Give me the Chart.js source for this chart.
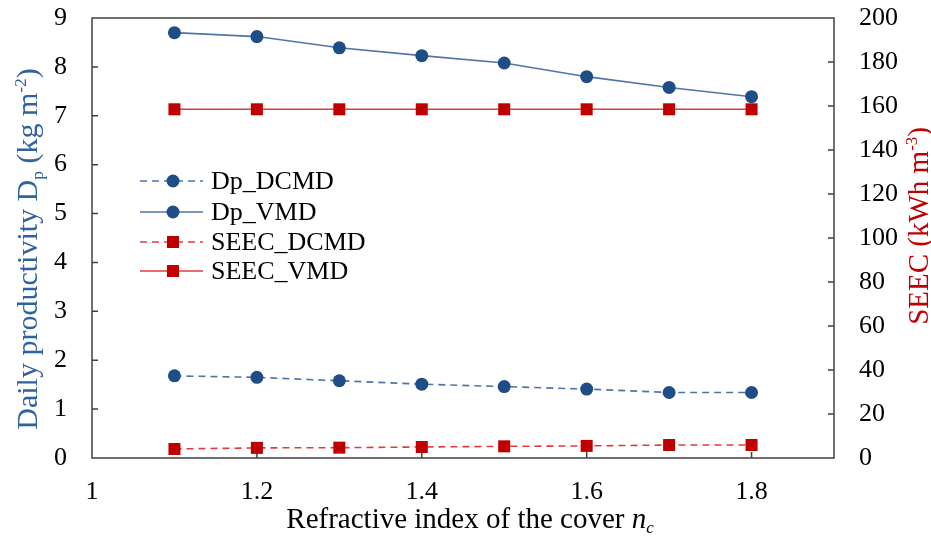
<!DOCTYPE html>
<html><head><meta charset="utf-8">
<script src="https://cdn.jsdelivr.net/npm/chart.js@4"></script>
<style>html,body{margin:0;padding:0;background:#fff}#wrap{width:931px;height:537px}</style>
</head><body><div id="wrap"><canvas id="c" width="931" height="537"></canvas></div>
<script>
const refractiveIndex = [1.1, 1.2, 1.3, 1.4, 1.5, 1.6, 1.7, 1.8];
const dpDCMD = [1.68, 1.65, 1.58, 1.51, 1.46, 1.41, 1.34, 1.34];
const dpVMD = [8.70, 8.62, 8.39, 8.23, 8.08, 7.80, 7.58, 7.39];
const seecDCMD = [4.1, 4.6, 4.7, 5.0, 5.3, 5.5, 5.9, 5.9];
const seecVMD = [158.5, 158.5, 158.5, 158.5, 158.5, 158.5, 158.5, 158.5];
const seriesNames = ['Dp_DCMD', 'Dp_VMD', 'SEEC_DCMD', 'SEEC_VMD'];
const xTickLabels = ['1', '1.2', '1.4', '1.6', '1.8'];
const leftTickLabels = ['0','1','2','3','4','5','6','7','8','9'];
const rightTickLabels = ['0','20','40','60','80','100','120','140','160','180','200'];

const FONT = '"Liberation Serif", "Times New Roman", serif';
const BLUE_M = '#1f4e87', BLUE_L = '#4f74a8', RED_M = '#c00000', RED_L = '#e23b3b';
const TITLE_BLUE = '#2e62a0', TITLE_RED = '#c00000';
const fmt = v => String(Number(v.toFixed(3)));

function drawRich(ctx, segs, x, y, rot, size, color) {
  ctx.save();
  ctx.translate(x, y);
  if (rot) ctx.rotate(rot);
  ctx.fillStyle = color;
  ctx.textBaseline = 'alphabetic';
  let total = 0;
  const meas = segs.map(s => {
    const fs = s.sub || s.sup ? size * 0.58 : size;
    ctx.font = (s.italic ? 'italic ' : '') + fs + 'px ' + FONT;
    const w = ctx.measureText(s.t).width;
    total += w;
    return {fs, w};
  });
  let cx = -total / 2;
  segs.forEach((s, i) => {
    const fs = meas[i].fs;
    ctx.font = (s.italic ? 'italic ' : '') + fs + 'px ' + FONT;
    let dy = size * 0.33;
    if (s.sub) dy += size * 0.2;
    if (s.sup) dy -= size * 0.36;
    ctx.fillText(s.t, cx, dy);
    cx += meas[i].w;
  });
  ctx.restore();
}

const custom = {
  id: 'custom',
  beforeDatasetsDraw(chart) {
    const ctx = chart.ctx, a = chart.chartArea;
    ctx.save();
    ctx.strokeStyle = '#404040';
    ctx.lineWidth = 1.5;
    ctx.strokeRect(a.left, a.top, a.right - a.left, a.bottom - a.top);
    const y = chart.scales.y, y2 = chart.scales.y2, x = chart.scales.x;
    ctx.beginPath();
    leftTickLabels.forEach(t => { const v = +t; const p = y.getPixelForValue(v); if (v > 0 && v < 9) { ctx.moveTo(a.left, p); ctx.lineTo(a.left + 6, p); } });
    rightTickLabels.forEach(t => { const v = +t; const p = y2.getPixelForValue(v); if (v > 0 && v < 200) { ctx.moveTo(a.right, p); ctx.lineTo(a.right - 6, p); } });
    xTickLabels.forEach(t => { const v = +t; const p = x.getPixelForValue(v); if (v > 1) { ctx.moveTo(p, a.bottom); ctx.lineTo(p, a.bottom - 6); } });
    ctx.stroke();
    ctx.restore();
  },
  afterDraw(chart) {
    const ctx = chart.ctx;
    drawRich(ctx, [{t:'Daily productivity D'},{t:'p', sub:true},{t:' (kg m'},{t:'-2', sup:true},{t:')'}], 27, 249, -Math.PI/2, 30, TITLE_BLUE);
    drawRich(ctx, [{t:'SEEC (kWh m'},{t:'-3', sup:true},{t:')'}], 918, 226, -Math.PI/2, 29, TITLE_RED);
    drawRich(ctx, [{t:'Refractive index of the cover '},{t:'n', italic:true},{t:'c', italic:true, sub:true}], 470, 518, 0, 29, '#000');
    const rows = [181, 212, 242, 271];
    chart.data.datasets.forEach((ds, i) => {
      const yy = rows[i];
      ctx.save();
      ctx.strokeStyle = ds.borderColor;
      ctx.lineWidth = ds.borderWidth;
      ctx.setLineDash(ds.borderDash || []);
      ctx.beginPath(); ctx.moveTo(140, yy); ctx.lineTo(203, yy); ctx.stroke();
      ctx.setLineDash([]);
      ctx.fillStyle = ds.pointBackgroundColor;
      if (ds.pointStyle === 'rect') { ctx.fillRect(173 - 6, yy - 6, 12, 12); }
      else { ctx.beginPath(); ctx.arc(173, yy, 6.5, 0, Math.PI * 2); ctx.fill(); }
      ctx.fillStyle = '#000';
      ctx.font = '26px ' + FONT;
      ctx.textBaseline = 'middle';
      ctx.fillText(ds.label, 211, yy + 1);
      ctx.restore();
    });
  }
};

const pts = arr => refractiveIndex.map((x, i) => ({x, y: arr[i]}));
const noPad = s => { s.paddingTop = 0; s.paddingBottom = 0; };

new Chart(document.getElementById('c'), {
  type: 'line',
  data: {
    datasets: [
      {label: seriesNames[0], data: pts(dpDCMD), yAxisID: 'y', borderColor: BLUE_L, borderWidth: 1.6, borderDash: [7, 5], pointStyle: 'circle', pointRadius: 6.5, pointBackgroundColor: BLUE_M, pointBorderColor: BLUE_M, pointBorderWidth: 0},
      {label: seriesNames[1], data: pts(dpVMD), yAxisID: 'y', borderColor: BLUE_L, borderWidth: 1.6, pointStyle: 'circle', pointRadius: 6.5, pointBackgroundColor: BLUE_M, pointBorderColor: BLUE_M, pointBorderWidth: 0},
      {label: seriesNames[2], data: pts(seecDCMD), yAxisID: 'y2', borderColor: RED_L, borderWidth: 1.6, borderDash: [7, 5], pointStyle: 'rect', pointRadius: 8.5, pointBackgroundColor: RED_M, pointBorderColor: RED_M, pointBorderWidth: 0},
      {label: seriesNames[3], data: pts(seecVMD), yAxisID: 'y2', borderColor: RED_L, borderWidth: 1.6, pointStyle: 'rect', pointRadius: 8.5, pointBackgroundColor: RED_M, pointBorderColor: RED_M, pointBorderWidth: 0}
    ]
  },
  options: {
    responsive: false,
    animation: false,
    layout: {padding: {top: 18, left: 0, right: 0, bottom: 0}},
    plugins: {legend: {display: false}, tooltip: {enabled: false}},
    scales: {
      x: {
        type: 'linear', min: 1, max: 1.9,
        grid: {display: false}, border: {display: false},
        afterFit: s => { s.height = 79; },
        ticks: {
          stepSize: 0.1, autoSkip: false, maxRotation: 0, padding: 11,
          color: '#000', font: {family: FONT, size: 26},
          callback: v => xTickLabels.includes(fmt(v)) ? fmt(v) : ''
        }
      },
      y: {
        position: 'left', min: 0, max: 9,
        grid: {display: false}, border: {display: false},
        afterFit: s => { s.width = 92; noPad(s); },
        ticks: {stepSize: 1, padding: 17, color: '#000', font: {family: FONT, size: 26},
          callback: v => leftTickLabels.includes(fmt(v)) ? fmt(v) : ''}
      },
      y2: {
        position: 'right', min: 0, max: 200,
        grid: {display: false}, border: {display: false},
        afterFit: s => { s.width = 97; noPad(s); },
        ticks: {stepSize: 20, padding: 17, color: '#000', font: {family: FONT, size: 26},
          callback: v => rightTickLabels.includes(fmt(v)) ? fmt(v) : ''}
      }
    }
  },
  plugins: [custom]
});
</script>
</body></html>
